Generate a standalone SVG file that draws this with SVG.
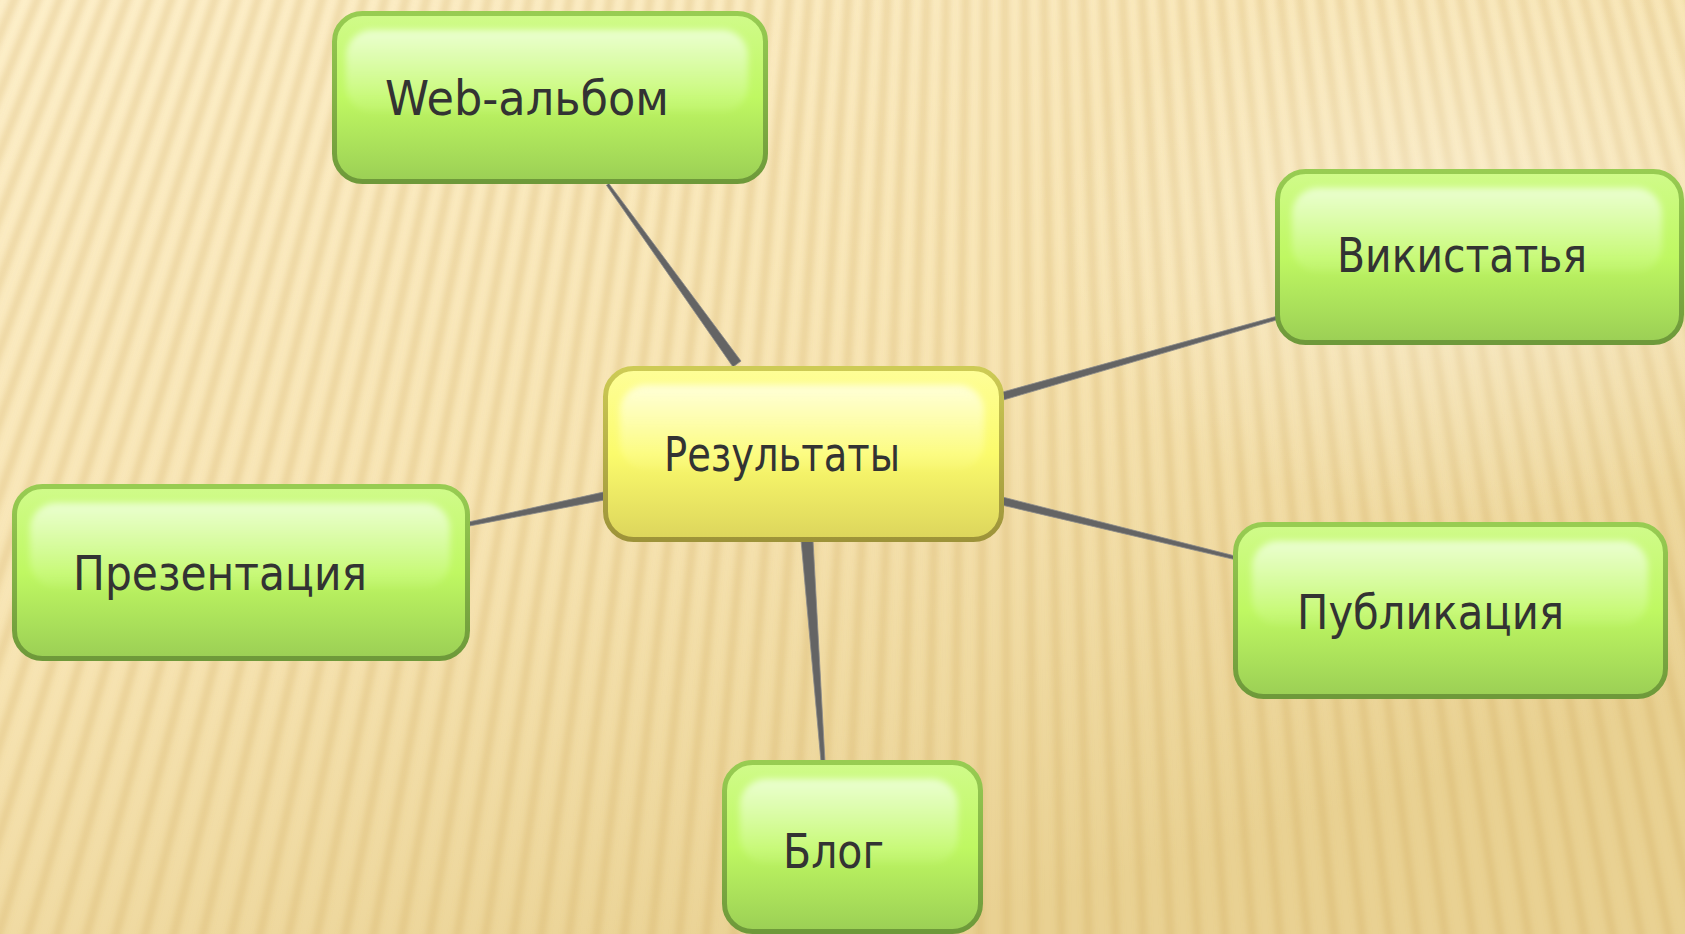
<svg xmlns="http://www.w3.org/2000/svg" width="1685" height="934" viewBox="0 0 1685 934">
  <defs>
    <linearGradient id="bgGrad" x1="0" y1="0" x2="0.55" y2="1">
      <stop offset="0" stop-color="#fdefca"/>
      <stop offset="0.55" stop-color="#f7e4b3"/>
      <stop offset="1" stop-color="#e9d192"/>
    </linearGradient>
    <radialGradient id="hiGrad" cx="0.5" cy="0.5" r="0.5">
      <stop offset="0" stop-color="#ffffff" stop-opacity="0.35"/>
      <stop offset="1" stop-color="#ffffff" stop-opacity="0"/>
    </radialGradient>
    <filter id="blurStripes" filterUnits="userSpaceOnUse" x="0" y="0" width="1685" height="934">
      <feGaussianBlur stdDeviation="3"/>
    </filter>
    <filter id="soft" x="-5%" y="-10%" width="110%" height="120%">
      <feGaussianBlur stdDeviation="3"/>
    </filter>
    <linearGradient id="gFill" x1="0" y1="0" x2="0" y2="1">
      <stop offset="0" stop-color="#d0fb8a"/>
      <stop offset="0.5" stop-color="#bff862"/>
      <stop offset="1" stop-color="#9bcf55"/>
    </linearGradient>
    <linearGradient id="gStroke" x1="0" y1="0" x2="0" y2="1">
      <stop offset="0" stop-color="#98cc52"/>
      <stop offset="1" stop-color="#6e993a"/>
    </linearGradient>
    <linearGradient id="gGloss" x1="0" y1="0" x2="0" y2="1">
      <stop offset="0" stop-color="#eeffd8" stop-opacity="0.9"/>
      <stop offset="1" stop-color="#e4ffc0" stop-opacity="0.1"/>
    </linearGradient>
    <linearGradient id="yFill" x1="0" y1="0" x2="0" y2="1">
      <stop offset="0" stop-color="#fefe98"/>
      <stop offset="0.5" stop-color="#fbfb6c"/>
      <stop offset="1" stop-color="#dcd55c"/>
    </linearGradient>
    <linearGradient id="yStroke" x1="0" y1="0" x2="0" y2="1">
      <stop offset="0" stop-color="#cdcb55"/>
      <stop offset="1" stop-color="#9d9339"/>
    </linearGradient>
    <linearGradient id="yGloss" x1="0" y1="0" x2="0" y2="1">
      <stop offset="0" stop-color="#ffffe0" stop-opacity="0.9"/>
      <stop offset="1" stop-color="#ffffc0" stop-opacity="0.1"/>
    </linearGradient>
    <style>
      .box { stroke-width: 5; }
      .green { fill: url(#gFill); stroke: url(#gStroke); }
      .yellow { fill: url(#yFill); stroke: url(#yStroke); }
      .gloss-g { fill: url(#gGloss); filter: url(#soft); }
      .gloss-y { fill: url(#yGloss); filter: url(#soft); }
      .label { font-family: "DejaVu Sans", "Liberation Sans", sans-serif; font-size: 48px; fill: #333333; }
      .conn { fill: #646464; stroke: #8a8a8a; stroke-width: 0.8; }
    </style>
  </defs>

  <!-- background -->
  <rect x="0" y="0" width="1685" height="934" fill="url(#bgGrad)"/>
  <g filter="url(#blurStripes)">
    <circle cx="1000" cy="-2400" r="2940" fill="none" stroke="#c9a34e" stroke-opacity="0.28" stroke-width="1180" stroke-dasharray="8 16"/>
  </g>
  <ellipse cx="1470" cy="240" rx="420" ry="280" fill="url(#hiGrad)"/>

  <!-- connectors -->
  <g id="connectors">
    <polygon class="conn" points="741.0,361.1 733.0,366.9 606.4,185.2 608.8,183.4"/>
    <polygon class="conn" points="1001.9,392.2 1276.5,316.3 1277.5,319.7 1004.1,399.8"/>
    <polygon class="conn" points="604.8,499.9 603.2,492.1 468.6,522 469.4,526"/>
    <polygon class="conn" points="1001.1,504.9 1002.9,497.1 1236.4,556.3 1235.6,559.8"/>
    <polygon class="conn" points="801,540 813,540 825,762 821,762"/>
  </g>

  <g id="node-web">
    <rect class="box green" x="334.5" y="13.5" width="431" height="168" rx="28"/>
    <rect class="gloss-g" x="346" y="30" width="402" height="82" rx="26"/>
    <text class="label" x="385" y="115" textLength="284" lengthAdjust="spacingAndGlyphs">Web-альбом</text>
  </g>

  <g id="node-wiki">
    <rect class="box green" x="1277.5" y="171.5" width="404" height="171" rx="28"/>
    <rect class="gloss-g" x="1292" y="188" width="370" height="84" rx="26"/>
    <text class="label" x="1337" y="272" textLength="250" lengthAdjust="spacingAndGlyphs">Викистатья</text>
  </g>

  <g id="node-results">
    <rect class="box yellow" x="605.5" y="368.5" width="396" height="171" rx="28"/>
    <rect class="gloss-y" x="620" y="385" width="364" height="84" rx="26"/>
    <text class="label" x="664" y="471" textLength="236" lengthAdjust="spacingAndGlyphs">Результаты</text>
  </g>

  <g id="node-presentation">
    <rect class="box green" x="14.5" y="486.5" width="453" height="172" rx="28"/>
    <rect class="gloss-g" x="30" y="503" width="420" height="84" rx="26"/>
    <text class="label" x="73" y="590" textLength="294" lengthAdjust="spacingAndGlyphs">Презентация</text>
  </g>

  <g id="node-publication">
    <rect class="box green" x="1235.5" y="524.5" width="430" height="172" rx="28"/>
    <rect class="gloss-g" x="1252" y="541" width="396" height="84" rx="26"/>
    <text class="label" x="1297" y="629" textLength="267" lengthAdjust="spacingAndGlyphs">Публикация</text>
  </g>

  <g id="node-blog">
    <rect class="box green" x="724.5" y="762.5" width="256" height="169" rx="28"/>
    <rect class="gloss-g" x="740" y="779" width="218" height="84" rx="26"/>
    <text class="label" x="783" y="868" textLength="101" lengthAdjust="spacingAndGlyphs">Блог</text>
  </g>
</svg>
